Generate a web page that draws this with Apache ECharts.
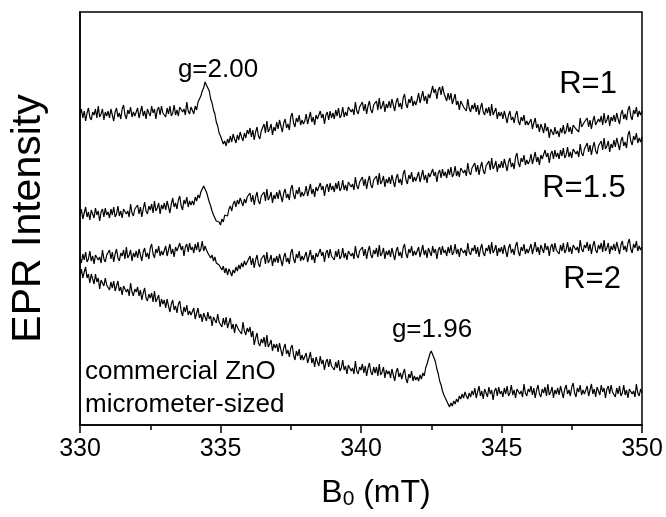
<!DOCTYPE html>
<html>
<head>
<meta charset="utf-8">
<script src="https://cdn.jsdelivr.net/npm/echarts@6/dist/echarts.min.js"></script>
<style>
  html, body { margin: 0; padding: 0; background: #fff; }
  #chart { width: 666px; height: 517px; }
</style>
</head>
<body>
<div id="chart"></div>
<script>
// Magnetic field axis (mT), sampled every 0.05 mT from 330 to 350
const fieldStart = 330;
const fieldStep = 0.05;
const xTicks = [330, 335, 340, 345, 350];

// EPR spectra, arbitrary intensity units with vertical offsets between samples
const seriesR1 = [
  310,316,307,314,304,312,317,308,305,313, 310,316,307,319,308,311,316,305,313,309,
  314,307,316,310,304,313,317,308,312,306, 316,320,310,306,315,311,318,308,313,309,
  310,317,307,313,319,309,314,306,316,312, 309,319,312,316,306,315,318,310,319,312,
  314,308,317,311,319,309,312,320,310,315, 309,318,320,313,316,310,323,314,311,318,
  316,311,319,315,323,321,329,334,337,343, 341,337,334,326,322,315,311,303,299,292,
  289,285,281,284,279,286,282,289,283,291, 286,282,290,285,293,288,284,292,287,295,
  291,297,288,295,285,293,298,289,286,294, 295,301,292,304,293,296,301,290,298,294,
  303,296,305,299,293,302,306,297,301,295, 308,312,302,298,307,303,310,300,305,301,
  304,311,301,307,313,303,308,300,310,306, 304,314,307,311,301,310,313,305,314,307,
  312,306,315,309,317,307,310,318,308,313, 309,318,320,313,316,310,323,314,311,318,
  317,323,314,321,311,319,324,315,312,320, 318,324,315,327,316,319,324,313,321,317,
  324,317,326,320,314,323,327,318,322,316, 327,331,321,317,326,322,329,319,324,320,
  325,332,322,328,334,324,329,321,331,327, 329,339,332,336,326,335,338,330,339,332,
  331,324,332,325,332,321,323,331,320,324, 315,324,325,318,320,314,326,317,313,320,
  316,322,313,320,310,317,322,313,310,317, 312,318,309,321,310,312,317,306,313,309,
  313,306,314,308,302,310,314,305,308,302, 310,314,304,300,308,304,310,300,304,300,
  300,306,296,302,307,297,301,293,301,297, 292,302,294,298,287,296,298,290,298,291,
  294,288,297,292,300,291,294,302,293,298, 291,300,302,296,298,293,307,298,296,303,
  301,307,298,305,296,304,309,300,298,306, 303,309,300,312,302,305,310,299,308,304,
  310,303,312,306,301,311,315,306,311,305, 315,319,309,305,315,311,318,308,314,310,
  314
];

const seriesR15 = [
  209,216,206,212,218,208,213,205,215,211, 207,217,210,214,204,213,216,208,217,210,
  213,207,216,210,218,208,211,219,209,214, 207,216,218,211,214,208,221,212,209,216,
  214,220,211,218,208,216,223,214,211,219, 215,221,212,224,214,217,222,211,220,216,
  222,215,224,218,212,221,227,218,222,216, 225,229,219,215,225,221,228,218,224,220,
  224,220,228,224,230,227,233,236,239,237, 233,228,223,219,214,210,207,204,202,203,
  200,206,203,210,212,209,216,219,214,221, 224,218,225,221,227,223,219,226,222,228,
  226,232,223,230,220,228,233,224,221,229, 227,233,224,236,225,228,233,222,230,226,
  233,226,235,229,223,232,236,227,231,225, 236,240,230,226,235,231,238,228,233,229,
  232,239,229,235,241,231,236,228,238,234, 232,242,235,239,229,238,241,233,242,235,
  239,233,242,236,244,234,237,245,235,240, 234,243,245,238,241,235,248,239,236,243,
  242,248,239,246,236,244,249,240,237,245, 243,249,240,252,241,244,249,238,246,242,
  248,241,250,244,238,247,251,242,246,240, 251,255,245,241,250,246,253,243,248,244,
  246,253,243,249,255,245,250,242,252,248, 246,256,249,253,243,252,255,247,256,249,
  253,247,256,250,258,248,251,259,249,254, 248,257,259,252,255,249,262,253,250,257,
  256,262,253,260,250,258,263,254,251,259, 258,264,255,267,256,259,264,253,261,257,
  264,257,266,260,254,263,267,258,262,256, 268,272,262,258,267,263,270,260,265,261,
  264,271,261,267,273,263,268,260,270,266, 265,275,268,272,262,271,274,266,275,268,
  272,266,275,269,277,267,270,278,268,273, 267,276,278,271,274,268,281,272,269,276,
  276,282,273,280,270,278,283,274,271,279, 278,284,275,287,276,279,284,273,281,277,
  285,278,287,281,275,284,288,279,283,277, 290,294,284,280,289,285,292,282,287,283,
  288
];

const seriesR2 = [
  168,162,171,165,173,163,166,174,164,169, 161,170,172,165,168,162,175,166,163,170,
  169,175,166,173,163,171,176,167,164,172, 169,175,166,178,167,170,175,164,172,168,
  174,167,176,170,164,173,177,168,172,166, 177,181,171,167,176,172,179,169,174,170,
  172,179,169,175,181,171,176,168,178,174, 172,182,175,179,169,178,181,173,182,175,
  178,172,181,175,183,173,176,184,174,179, 175,172,174,167,170,164,168,162,164,160,
  158,155,159,152,157,150,156,153,149,155, 152,158,154,160,156,162,158,164,160,163,
  163,169,160,167,157,165,170,161,158,166, 164,170,161,173,162,165,170,159,167,163,
  169,162,171,165,159,168,172,163,167,161, 172,176,166,162,171,167,174,164,169,165,
  166,173,163,169,175,165,170,162,172,168, 166,176,169,173,163,172,175,167,176,169,
  171,165,174,168,176,166,169,177,167,172, 165,174,176,169,172,166,179,170,167,174,
  172,178,169,176,166,174,179,170,167,175, 171,177,168,180,169,172,177,166,174,170,
  175,168,177,171,165,174,178,169,173,167, 177,181,171,167,176,172,179,169,174,170,
  171,178,168,174,180,170,175,167,177,173, 169,179,172,176,166,175,178,170,179,172,
  175,169,178,172,180,170,173,181,171,176, 168,177,179,172,175,169,182,173,170,177,
  174,180,171,178,168,176,181,172,169,177, 174,180,171,183,172,175,180,169,177,173,
  178,171,180,174,168,177,181,172,176,170, 179,183,173,169,178,174,181,171,176,172,
  174,181,171,177,183,173,178,170,180,176, 172,182,175,179,169,178,181,173,182,175,
  177,171,180,174,182,172,175,183,173,178, 171,180,182,175,178,172,185,176,173,180,
  177,183,174,181,171,179,184,175,172,180, 176,182,173,185,174,177,182,171,179,175,
  181,174,183,177,171,180,184,175,179,173, 182,186,176,172,181,177,184,174,179,175,
  178
];

const seriesCommercial = [
  148,156,147,153,158,147,151,142,151,146, 141,151,143,147,136,145,147,139,147,140,
  141,135,143,137,144,134,136,144,134,138, 130,139,140,133,136,129,142,133,129,136,
  133,138,129,135,125,132,137,127,124,131, 127,132,123,134,123,125,130,118,126,121,
  125,117,126,119,113,121,125,115,119,112, 121,124,114,109,118,113,120,110,114,110,
  110,117,106,112,117,107,111,103,112,108, 104,113,106,109,99,108,110,102,111,103,
  105,98,107,100,108,97,99,107,96,101, 92,101,102,95,97,91,103,94,90,97,
  93,98,88,94,80,87,92,82,79,86, 82,88,78,90,78,81,85,74,81,77,
  81,73,82,75,69,77,81,71,75,68, 77,80,70,65,74,69,76,65,70,65,
  66,72,62,67,73,62,67,58,68,63, 59,69,61,65,55,63,66,58,66,59,
  61,55,63,57,65,54,57,65,55,59, 51,60,62,54,57,51,64,54,51,58,
  55,61,52,59,49,57,62,53,50,58, 52,58,49,61,50,53,58,47,55,51,
  54,47,56,50,44,53,57,48,52,46, 52,56,46,42,51,47,54,44,49,45,
  48,44,50,46,52,49,57,61,66,71, 74,72,67,63,56,51,44,40,34,30,
  27,24,21,18,22,19,24,21,26,23, 29,26,31,27,33,29,26,32,28,34,
  30,37,27,33,39,29,34,26,36,32, 28,38,31,35,25,34,37,29,38,31,
  34,28,37,31,39,29,32,40,30,35, 27,36,38,31,34,28,41,32,29,36,
  33,39,30,37,27,35,40,31,28,36, 32,38,29,41,30,33,38,27,35,31,
  37,30,39,33,27,36,40,31,35,29, 38,42,32,28,37,33,40,30,35,31,
  32,39,29,35,41,31,36,28,38,34, 30,40,33,37,27,36,39,31,40,33,
  34,28,37,31,39,29,32,40,30,35, 27,36,38,31,34,28,41,32,29,36,
  32
];

const FONT = '"Liberation Sans", Arial, Helvetica, sans-serif';

function toPairs(values) {
  return values.map((v, i) => [+(fieldStart + i * fieldStep).toFixed(2), v]);
}

function trace(name, values) {
  return {
    name: name,
    type: 'line',
    data: toPairs(values),
    showSymbol: false,
    symbol: 'none',
    lineStyle: { color: '#000', width: 1.2 },
    silent: true
  };
}

function label(text, x, y, size, align) {
  return {
    type: 'text', x: x, y: y, silent: true,
    style: {
      text: text, font: size + 'px ' + FONT, fill: '#000',
      textAlign: align || 'center', textVerticalAlign: 'middle'
    }
  };
}

const chart = echarts.init(document.getElementById('chart'), null, { renderer: 'canvas' });

chart.setOption({
  animation: false,
  backgroundColor: '#fff',
  grid: {
    left: 77, right: 24, top: 12, bottom: 92,
    show: true, borderColor: '#000', borderWidth: 1.5, backgroundColor: 'transparent'
  },
  xAxis: {
    type: 'value',
    min: xTicks[0],
    max: xTicks[xTicks.length - 1],
    interval: 5,
    axisLine: { show: true, onZero: false, lineStyle: { color: '#000', width: 1.5 } },
    axisTick: { show: true, inside: false, length: 8, lineStyle: { color: '#000', width: 1.5 } },
    minorTick: { show: true, splitNumber: 2, length: 5, lineStyle: { color: '#000', width: 1.5 } },
    splitLine: { show: false },
    axisLabel: { color: '#000', fontSize: 25, fontFamily: FONT, margin: 12 }
  },
  yAxis: {
    type: 'value',
    min: 0,
    max: 413,
    axisLine: { show: true, lineStyle: { color: '#000', width: 1.5 } },
    axisTick: { show: false },
    axisLabel: { show: false },
    splitLine: { show: false },
    name: 'EPR Intensity',
    nameLocation: 'middle',
    nameGap: 31,
    nameTextStyle: { color: '#000', fontSize: 41, fontFamily: FONT }
  },
  series: [
    trace('R=1', seriesR1),
    trace('R=1.5', seriesR15),
    trace('R=2', seriesR2),
    trace('commercial ZnO', seriesCommercial)
  ],
  graphic: [
    {
      type: 'text', x: 376, y: 493, silent: true,
      style: {
        text: '{b|B}{s|0}{b| (mT)}',
        textAlign: 'center', textVerticalAlign: 'middle',
        rich: {
          b: { fontSize: 32, fontFamily: FONT, fill: '#000', color: '#000' },
          s: { fontSize: 21, fontFamily: FONT, fill: '#000', color: '#000', verticalAlign: 'bottom', padding: [13, 0, 0, 0] }
        }
      }
    },
    label('g=2.00', 218, 70, 26),
    label('g=1.96', 432, 330, 26),
    label('R=1', 588, 84, 31),
    label('R=1.5', 584, 188, 31),
    label('R=2', 592, 279, 31),
    label('commercial ZnO', 85, 372, 26, 'left'),
    label('micrometer-sized', 85, 405, 26, 'left')
  ]
});
</script>
</body>
</html>
